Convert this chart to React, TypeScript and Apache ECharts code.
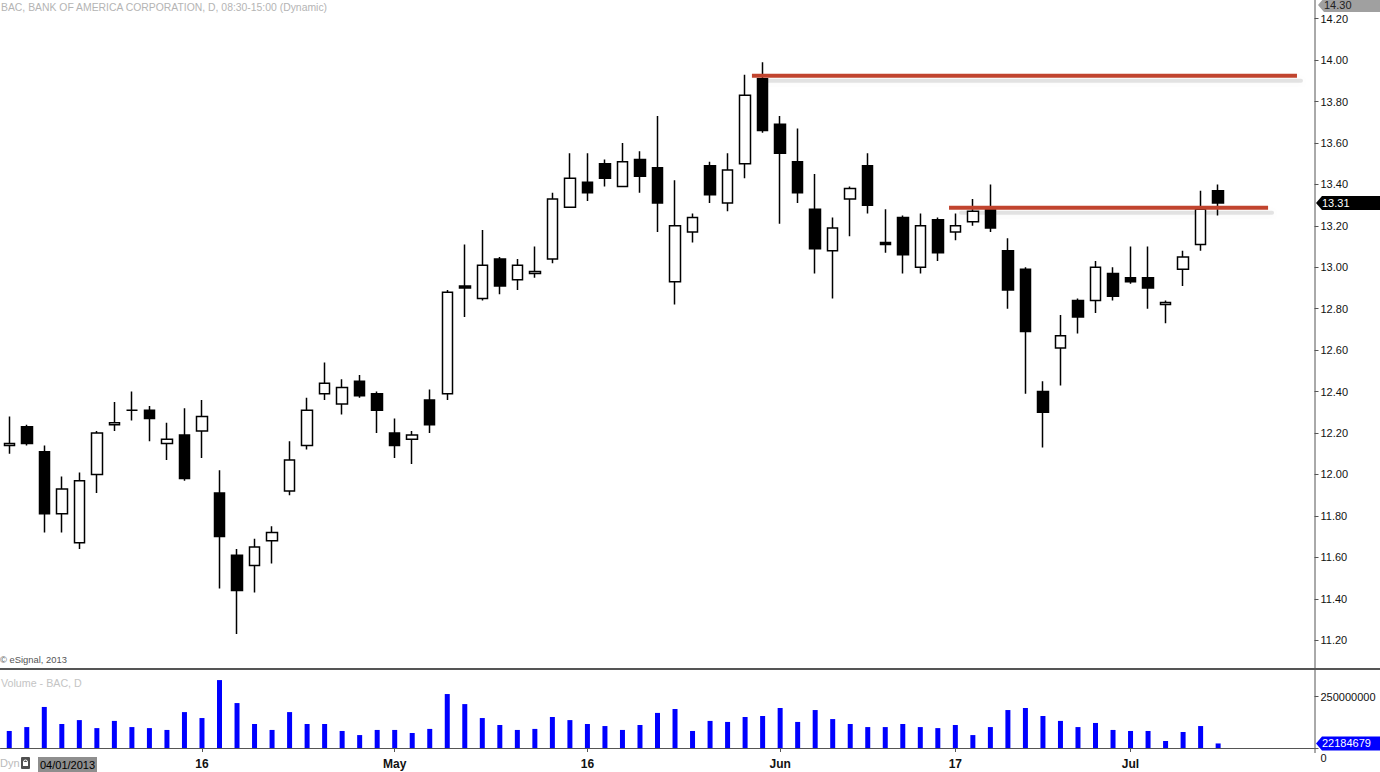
import React, { useEffect, useRef } from "react";
import * as echarts from "echarts";

const chartTitle = "BAC, BANK OF AMERICA CORPORATION, D, 08:30-15:00 (Dynamic)";
const copyrightText = "© eSignal, 2013";
const volumeTitle = "Volume - BAC, D";

const tradingDates = [
  "2013-04-01", "2013-04-02", "2013-04-03", "2013-04-04", "2013-04-05",
  "2013-04-08", "2013-04-09", "2013-04-10", "2013-04-11", "2013-04-12",
  "2013-04-15", "2013-04-16", "2013-04-17", "2013-04-18", "2013-04-19",
  "2013-04-22", "2013-04-23", "2013-04-24", "2013-04-25", "2013-04-26",
  "2013-04-29", "2013-04-30", "2013-05-01", "2013-05-02", "2013-05-03",
  "2013-05-06", "2013-05-07", "2013-05-08", "2013-05-09", "2013-05-10",
  "2013-05-13", "2013-05-14", "2013-05-15", "2013-05-16", "2013-05-17",
  "2013-05-20", "2013-05-21", "2013-05-22", "2013-05-23", "2013-05-24",
  "2013-05-28", "2013-05-29", "2013-05-30", "2013-05-31", "2013-06-03",
  "2013-06-04", "2013-06-05", "2013-06-06", "2013-06-07", "2013-06-10",
  "2013-06-11", "2013-06-12", "2013-06-13", "2013-06-14", "2013-06-17",
  "2013-06-18", "2013-06-19", "2013-06-20", "2013-06-21", "2013-06-24",
  "2013-06-25", "2013-06-26", "2013-06-27", "2013-06-28", "2013-07-01",
  "2013-07-02", "2013-07-03", "2013-07-05", "2013-07-08", "2013-07-09",
];
const futureDates = ["2013-07-10", "2013-07-11", "2013-07-12", "2013-07-15", "2013-07-16"];

const opens = [
  12.14, 12.23, 12.11, 11.81, 11.67, 12.00, 12.24, 12.31, 12.31, 12.15,
  12.19, 12.21, 11.91, 11.61, 11.56, 11.68, 11.92, 12.14, 12.39, 12.34,
  12.45, 12.39, 12.20, 12.17, 12.36, 12.39, 12.91, 12.85, 13.04, 12.94,
  12.97, 13.04, 13.29, 13.41, 13.50, 13.39, 13.52, 13.48, 12.93, 13.17,
  13.49, 13.31, 13.50, 13.91, 13.69, 13.51, 13.28, 13.08, 13.33, 13.49,
  13.12, 13.24, 13.00, 13.23, 13.17, 13.22, 13.29, 13.08, 12.99, 12.40,
  12.61, 12.84, 12.84, 12.97, 12.95, 12.95, 12.82, 12.99, 13.11, 13.37,
];
const highs = [
  12.28, 12.24, 12.14, 11.99, 12.01, 12.21, 12.35, 12.40, 12.33, 12.25,
  12.32, 12.36, 12.02, 11.64, 11.69, 11.75, 12.16, 12.37, 12.54, 12.46,
  12.48, 12.40, 12.27, 12.21, 12.41, 12.89, 13.11, 13.18, 13.05, 13.04,
  13.10, 13.36, 13.55, 13.55, 13.52, 13.60, 13.56, 13.73, 13.42, 13.26,
  13.51, 13.55, 13.93, 13.99, 13.73, 13.67, 13.45, 13.24, 13.39, 13.55,
  13.28, 13.25, 13.26, 13.24, 13.26, 13.33, 13.40, 13.14, 13.00, 12.45,
  12.77, 12.85, 13.03, 13.00, 13.10, 13.10, 12.84, 13.08, 13.37, 13.40,
];
const lows = [
  12.10, 12.14, 11.72, 11.72, 11.64, 11.91, 12.21, 12.26, 12.16, 12.07,
  11.97, 12.08, 11.45, 11.23, 11.43, 11.57, 11.90, 12.12, 12.36, 12.29,
  12.37, 12.20, 12.08, 12.05, 12.20, 12.36, 12.76, 12.84, 12.87, 12.89,
  12.95, 13.02, 13.29, 13.32, 13.39, 13.39, 13.36, 13.17, 12.82, 13.12,
  13.31, 13.27, 13.43, 13.65, 13.21, 13.31, 12.97, 12.85, 13.15, 13.26,
  13.07, 12.97, 12.97, 13.03, 13.13, 13.20, 13.17, 12.80, 12.39, 12.13,
  12.43, 12.68, 12.78, 12.84, 12.92, 12.80, 12.73, 12.91, 13.08, 13.25,
];
const closes = [
  12.15, 12.15, 11.81, 11.93, 11.97, 12.20, 12.25, 12.31, 12.27, 12.17,
  11.98, 12.28, 11.70, 11.44, 11.65, 11.72, 12.07, 12.31, 12.44, 12.42,
  12.38, 12.31, 12.14, 12.19, 12.24, 12.88, 12.90, 13.01, 12.91, 13.01,
  12.98, 13.33, 13.43, 13.36, 13.43, 13.51, 13.44, 13.31, 13.20, 13.24,
  13.35, 13.47, 13.83, 13.66, 13.55, 13.36, 13.09, 13.19, 13.38, 13.30,
  13.11, 13.06, 13.20, 13.07, 13.20, 13.27, 13.19, 12.89, 12.69, 12.30,
  12.67, 12.76, 13.00, 12.86, 12.93, 12.90, 12.83, 13.05, 13.28, 13.31,
];
const volumes = [
  83e6, 102e6, 200e6, 117e6, 136e6, 97e6, 132e6, 102e6, 97e6, 88e6,
  175e6, 146e6, 331e6, 219e6, 117e6, 88e6, 175e6, 117e6, 117e6, 83e6,
  63e6, 88e6, 88e6, 73e6, 93e6, 263e6, 214e6, 146e6, 112e6, 88e6,
  93e6, 151e6, 136e6, 117e6, 107e6, 88e6, 112e6, 171e6, 190e6, 83e6,
  132e6, 127e6, 151e6, 156e6, 195e6, 127e6, 185e6, 141e6, 117e6, 102e6,
  102e6, 117e6, 102e6, 97e6, 112e6, 63e6, 102e6, 185e6, 195e6, 156e6,
  132e6, 102e6, 122e6, 88e6, 83e6, 83e6, 34e6, 78e6, 107e6, 22184679,
];

const axisTickLabels: Record<string, string> = {
  "2013-04-16": "16",
  "2013-05-01": "May",
  "2013-05-16": "16",
  "2013-06-03": "Jun",
  "2013-06-17": "17",
  "2013-07-01": "Jul",
};

const priceMin = 11.2;
const priceMax = 14.2;
const priceStep = 0.2;
const viewHigh = 14.3;
const volumeMax = 250000000;

const resistanceLines = [
  { fromIndex: 42.39, toIndex: 73.5, price: 13.925 },
  { fromIndex: 53.64, toIndex: 71.85, price: 13.288 },
];

const FONT = "Liberation Sans, Arial, sans-serif";

function formatUSDate(d: string) {
  const [y, m, day] = d.split("-");
  return `${m}/${day}/${y}`;
}

function marker(x: number, yc: number, fill: string, text: string, textFill: string) {
  return [
    {
      type: "polygon",
      shape: {
        points: [
          [x, yc],
          [x + 6, yc - 7],
          [1380, yc - 7],
          [1380, yc + 7],
          [x + 6, yc + 7],
        ],
      },
      style: { fill },
      z: 100,
    },
    {
      type: "text",
      x: x + 6,
      y: yc,
      style: {
        text,
        fill: textFill,
        font: `11px ${FONT}`,
        verticalAlign: "middle",
        align: "left",
      },
      z: 101,
    },
  ];
}

export default function App() {
  const ref = useRef<HTMLDivElement>(null);

  useEffect(() => {
    if (!ref.current) return;
    const chart = echarts.init(ref.current, undefined, { renderer: "svg" });
    const categories = [...tradingDates, ...futureDates];
    const candleData = tradingDates.map((_, i) => [opens[i], closes[i], lows[i], highs[i]]);
    const isLabelDate = (_i: number, v: string) => v in axisTickLabels;

    const option: any = {
      animation: false,
      backgroundColor: "#ffffff",
      grid: [
        { left: 0.5, right: 65.5, top: 18.7, height: 621.5 },
        { left: 0.5, right: 65.5, top: 696.7, height: 51.3 },
      ],
      xAxis: [
        {
          type: "category",
          gridIndex: 0,
          data: categories,
          boundaryGap: true,
          axisLine: { show: false },
          axisTick: { show: false },
          axisLabel: { show: false },
          splitLine: { show: false },
        },
        {
          type: "category",
          gridIndex: 1,
          data: categories,
          boundaryGap: true,
          offset: 4,
          axisLine: { show: true, lineStyle: { color: "#555", width: 1 } },
          axisTick: {
            show: true,
            alignWithLabel: true,
            length: 4,
            interval: isLabelDate,
            lineStyle: { color: "#555" },
          },
          axisLabel: {
            interval: isLabelDate,
            formatter: (v: string) => axisTickLabels[v] ?? "",
            fontWeight: "bold",
            fontSize: 12,
            fontFamily: FONT,
            color: "#111",
            margin: 6,
          },
          splitLine: { show: false },
        },
        {
          type: "value",
          gridIndex: 0,
          min: -0.5,
          max: categories.length - 0.5,
          show: false,
          axisLine: { onZero: false },
        },
      ],
      yAxis: [
        {
          type: "value",
          gridIndex: 0,
          position: "right",
          min: priceMin,
          max: priceMax,
          interval: priceStep,
          axisLine: { show: false, onZero: false },
          axisTick: { show: true, length: 4, lineStyle: { color: "#555" } },
          splitLine: { show: false },
          axisLabel: {
            formatter: (v: number) => v.toFixed(2),
            fontSize: 11,
            fontFamily: FONT,
            color: "#111",
            margin: 6,
          },
        },
        {
          type: "value",
          gridIndex: 1,
          position: "right",
          min: 0,
          max: volumeMax,
          interval: volumeMax,
          axisLine: { show: false, onZero: false },
          axisTick: { show: true, length: 4, lineStyle: { color: "#555" } },
          splitLine: { show: false },
          axisLabel: {
            formatter: (v: number) => (v === 0 ? "{z|0}" : String(Math.round(v))),
            fontSize: 11,
            fontFamily: FONT,
            color: "#111",
            margin: 6,
            rich: {
              z: { fontSize: 11, fontFamily: FONT, color: "#111", padding: [20, 0, 0, 0] },
            },
          },
        },
      ],
      series: [
        {
          type: "candlestick",
          xAxisIndex: 0,
          yAxisIndex: 0,
          data: candleData,
          barWidth: 11,
          clip: false,
          itemStyle: {
            color: "#ffffff",
            color0: "#000000",
            borderColor: "#000000",
            borderColor0: "#000000",
            borderColorDoji: "#000000",
            borderWidth: 1.5,
          },
          silent: true,
        },
        {
          type: "bar",
          xAxisIndex: 1,
          yAxisIndex: 1,
          data: volumes,
          barWidth: 5,
          clip: false,
          itemStyle: { color: "#0000ff" },
          silent: true,
        },
        ...resistanceLines.map((r) => ({
          type: "line",
          xAxisIndex: 2,
          yAxisIndex: 0,
          data: [
            [r.fromIndex, r.price],
            [r.toIndex, r.price],
          ],
          symbol: "none",
          silent: true,
          clip: false,
          z: 5,
          lineStyle: { color: "#c1442e", width: 4 },
        })),
      ],
    };

    chart.setOption(option);

    const lastClose = closes[closes.length - 1];
    const lastVol = volumes[volumes.length - 1];
    const px = (v: number) => chart.convertToPixel({ xAxisIndex: 2 } as any, v) as number;
    const py = (v: number) => chart.convertToPixel({ yAxisIndex: 0 } as any, v) as number;
    const yLast = py(lastClose);
    const yVol = chart.convertToPixel({ yAxisIndex: 1 } as any, lastVol) as number;

    const shadows = resistanceLines.map((r) => {
      const x1 = px(r.fromIndex);
      const x2 = px(r.toIndex);
      const y = py(r.price);
      return {
        type: "rect",
        shape: { x: x1 + 10, y: y + 3, width: x2 - x1 - 4, height: 4, r: 2 },
        style: {
          fill: "rgba(0,0,0,0.10)",
          shadowBlur: 7,
          shadowColor: "rgba(0,0,0,0.30)",
          shadowOffsetY: 1,
        },
        z: 1,
        silent: true,
      };
    });

    const graphic: any[] = [
      ...shadows,
      {
        type: "text",
        x: 1,
        y: 2,
        style: { text: chartTitle, font: `10.4px ${FONT}`, fill: "#b4b4b4" },
      },
      {
        type: "text",
        x: 0,
        y: 655,
        style: { text: copyrightText, font: `9.4px ${FONT}`, fill: "#555" },
      },
      {
        type: "text",
        x: 1,
        y: 677,
        style: { text: volumeTitle, font: `10.7px ${FONT}`, fill: "#c4c4c4" },
      },
      {
        type: "rect",
        shape: { x: 0, y: 668, width: 1380, height: 2 },
        style: { fill: "#555" },
        z: 50,
      },
      {
        type: "line",
        shape: { x1: 1315, y1: 0, x2: 1315, y2: 753 },
        style: { stroke: "#555", lineWidth: 1 },
        z: 50,
      },
      {
        type: "text",
        x: 0,
        y: 757,
        style: { text: "Dyn", font: `11px ${FONT}`, fill: "#bbb" },
      },
      {
        type: "rect",
        shape: { x: 21, y: 757, width: 9, height: 12, r: 1 },
        style: { fill: "#505050" },
      },
      {
        type: "arc",
        shape: { cx: 25.5, cy: 762, r: 2, startAngle: Math.PI, endAngle: 0 },
        style: { stroke: "#fff", lineWidth: 1, fill: "none" },
      },
      {
        type: "rect",
        shape: { x: 23, y: 762, width: 5, height: 4 },
        style: { fill: "#fff" },
      },
      {
        type: "rect",
        shape: { x: 38, y: 757, width: 59, height: 15 },
        style: { fill: "#8e8e8e" },
      },
      {
        type: "text",
        x: 40,
        y: 765,
        style: {
          text: formatUSDate(tradingDates[0]),
          font: `11px ${FONT}`,
          fill: "#000",
          verticalAlign: "middle",
        },
      },
      ...marker(1318, 5, "#a0a0a0", viewHigh.toFixed(2), "#222"),
      ...marker(1316, yLast, "#000000", lastClose.toFixed(2), "#ffffff"),
      ...marker(1316, yVol, "#0000ff", String(lastVol), "#ffffff"),
    ];

    chart.setOption({ graphic });

    return () => {
      chart.dispose();
    };
  }, []);

  return (
    <div
      ref={ref}
      style={{ position: "fixed", left: 0, top: 0, width: 1380, height: 772, background: "#fff" }}
    />
  );
}
